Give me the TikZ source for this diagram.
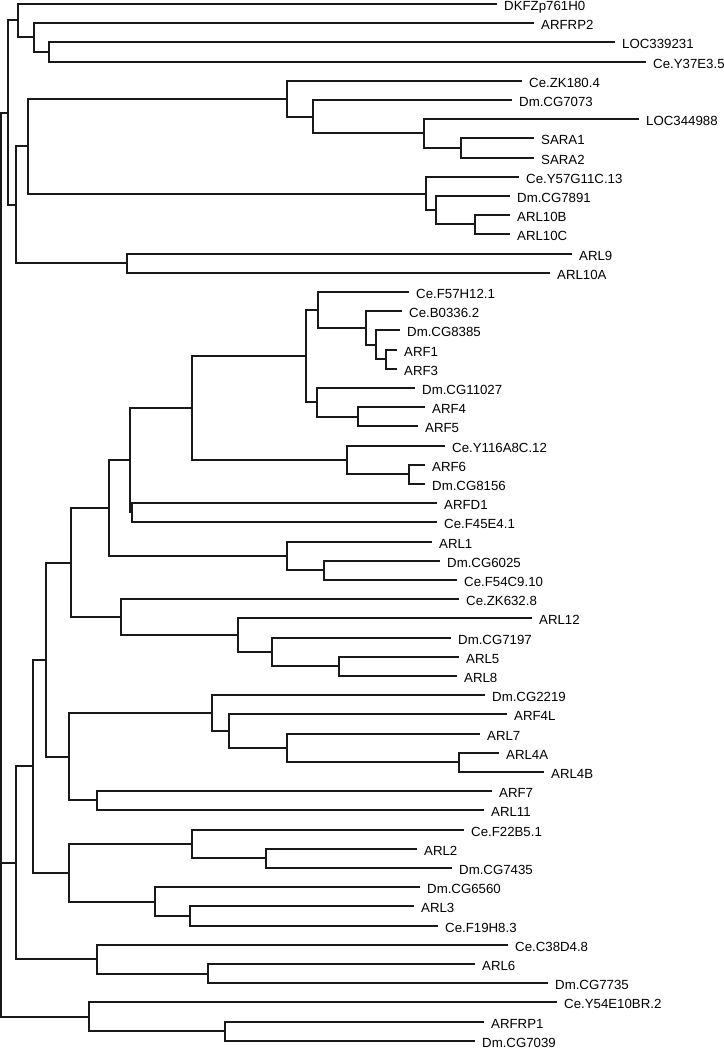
\documentclass[tikz,border=0pt]{standalone}
\usepackage{fontspec}
\setmainfont{Liberation Sans}
\usepackage{tikz}
\tikzset{
  % Tree branches
  branch/.style={draw=black!90, line width=1.8bp, line join=miter},
  % Tip labels
  taxon/.style={
    anchor=west, inner xsep=7bp, inner ysep=0pt,
    text height=12.6pt, text depth=0pt,
    font=\fontsize{13.3}{13.3}\selectfont,
  },
}

\begin{document}
\begin{tikzpicture}[x=1bp, y=-1bp]
  \useasboundingbox (0,0) rectangle (724,1048);

  % Tips, top group
  \node[taxon] (dkfz)      at (497,4)   {DKFZp761H0};
  \node[taxon] (arfrp2)    at (534,23)  {ARFRP2};
  \node[taxon] (loc339231) at (615,42)  {LOC339231};
  \node[taxon] (y37e3)     at (646,62)  {Ce.Y37E3.5};
  \node[taxon] (zk180)     at (522,81)  {Ce.ZK180.4};
  \node[taxon] (cg7073)    at (512,100) {Dm.CG7073};
  \node[taxon] (loc344988) at (639,119) {LOC344988};
  \node[taxon] (sara1)     at (534,138) {SARA1};
  \node[taxon] (sara2)     at (534,158) {SARA2};
  \node[taxon] (y57g11c)   at (519,177) {Ce.Y57G11C.13};
  \node[taxon] (cg7891)    at (510,196) {Dm.CG7891};
  \node[taxon] (arl10b)    at (510,215) {ARL10B};
  \node[taxon] (arl10c)    at (510,234) {ARL10C};
  \node[taxon] (arl9)      at (572,254) {ARL9};
  \node[taxon] (arl10a)    at (550,273) {ARL10A};

  % Tips, ARF / ARL group
  \node[taxon] (f57h12)    at (409,292) {Ce.F57H12.1};
  \node[taxon] (b0336)     at (402,311) {Ce.B0336.2};
  \node[taxon] (cg8385)    at (400,330) {Dm.CG8385};
  \node[taxon] (arf1)      at (397,350) {ARF1};
  \node[taxon] (arf3)      at (397,369) {ARF3};
  \node[taxon] (cg11027)   at (415,388) {Dm.CG11027};
  \node[taxon] (arf4)      at (425,407) {ARF4};
  \node[taxon] (arf5)      at (418,426) {ARF5};
  \node[taxon] (y116a8c)   at (445,446) {Ce.Y116A8C.12};
  \node[taxon] (arf6)      at (425,465) {ARF6};
  \node[taxon] (cg8156)    at (425,484) {Dm.CG8156};
  \node[taxon] (arfd1)     at (437,503) {ARFD1};
  \node[taxon] (f45e4)     at (437,522) {Ce.F45E4.1};
  \node[taxon] (arl1)      at (432,542) {ARL1};
  \node[taxon] (cg6025)    at (440,561) {Dm.CG6025};
  \node[taxon] (f54c9)     at (457,580) {Ce.F54C9.10};
  \node[taxon] (zk632)     at (459,599) {Ce.ZK632.8};
  \node[taxon] (arl12)     at (532,618) {ARL12};
  \node[taxon] (cg7197)    at (451,638) {Dm.CG7197};
  \node[taxon] (arl5)      at (459,657) {ARL5};
  \node[taxon] (arl8)      at (457,676) {ARL8};
  \node[taxon] (cg2219)    at (485,695) {Dm.CG2219};
  \node[taxon] (arf4l)     at (507,714) {ARF4L};
  \node[taxon] (arl7)      at (480,734) {ARL7};
  \node[taxon] (arl4a)     at (499,753) {ARL4A};
  \node[taxon] (arl4b)     at (544,772) {ARL4B};
  \node[taxon] (arf7)      at (492,791) {ARF7};
  \node[taxon] (arl11)     at (484,810) {ARL11};
  \node[taxon] (f22b5)     at (464,830) {Ce.F22B5.1};
  \node[taxon] (arl2)      at (417,849) {ARL2};
  \node[taxon] (cg7435)    at (452,868) {Dm.CG7435};
  \node[taxon] (cg6560)    at (420,887) {Dm.CG6560};
  \node[taxon] (arl3)      at (414,906) {ARL3};
  \node[taxon] (f19h8)     at (438,926) {Ce.F19H8.3};
  \node[taxon] (c38d4)     at (508,945) {Ce.C38D4.8};
  \node[taxon] (arl6)      at (475,964) {ARL6};
  \node[taxon] (cg7735)    at (548,983) {Dm.CG7735};

  % Tips, bottom group
  \node[taxon] (y54e10br)  at (557,1002) {Ce.Y54E10BR.2};
  \node[taxon] (arfrp1)    at (484,1022) {ARFRP1};
  \node[taxon] (cg7039)    at (475,1041) {Dm.CG7039};

  % Internal nodes
  \coordinate (root)   at (1.3,863);
  \coordinate (nA)     at (8,113);
  \coordinate (na)     at (18,20);
  \coordinate (nb)     at (34,37);
  \coordinate (nc)     at (49,52);
  \coordinate (nE)     at (16,205);
  \coordinate (nD)     at (28,146);
  \coordinate (nH)     at (287,99);
  \coordinate (nI)     at (313,117);
  \coordinate (nJ)     at (424,133);
  \coordinate (nSara)  at (461,148);
  \coordinate (nK)     at (426,194);
  \coordinate (nL)     at (436,210);
  \coordinate (nM)     at (475,224);
  \coordinate (nF)     at (127,263);

  \coordinate (nN)     at (16,863);
  \coordinate (nO)     at (33,766);
  \coordinate (nU)     at (46,660);
  \coordinate (nSeven) at (71,563);
  \coordinate (nArf)   at (109,508);
  \coordinate (nAlpha) at (130,460);
  \coordinate (nArfs)  at (192,408);
  \coordinate (nArfi)  at (306,356);
  \coordinate (nArfa)  at (318,310);
  \coordinate (nArfb)  at (366,328);
  \coordinate (nArfc)  at (376,345);
  \coordinate (nArfit) at (386,359);
  \coordinate (nArfii) at (317,402);
  \coordinate (nArfiv) at (358,417);
  \coordinate (nArfvi) at (347,460);
  \coordinate (nArfsx) at (409,474);
  \coordinate (nArfd)  at (132,512);
  \coordinate (nArli)  at (287,556);
  \coordinate (nArlib) at (324,570);
  \coordinate (nZk)    at (121,617);
  \coordinate (nArlxi) at (238,635);
  \coordinate (nArlv)  at (272,652);
  \coordinate (nArlvh) at (339,666);
  \coordinate (nV)     at (69,757);
  \coordinate (nX)     at (212,713);
  \coordinate (nY)     at (229,731);
  \coordinate (nZ)     at (287,748);
  \coordinate (nArliv) at (459,762);
  \coordinate (nW)     at (97,800);
  \coordinate (nP)     at (69,873);
  \coordinate (nQ)     at (192,844);
  \coordinate (nR)     at (266,858);
  \coordinate (nS)     at (155,902);
  \coordinate (nT)     at (190,916);
  \coordinate (nCe)    at (97,959);
  \coordinate (nArlvi) at (208,974);

  \coordinate (nBot)   at (89,1017);
  \coordinate (nArfrp) at (225,1031);

  % Branches
  \draw[branch] (root) |- (nA) (root) |- (nN) (root) |- (nBot);

  \draw[branch] (nA) |- (na) (nA) |- (nE);
  \draw[branch] (na) |- (dkfz.west) (na) |- (nb);
  \draw[branch] (nb) |- (arfrp2.west) (nb) |- (nc);
  \draw[branch] (nc) |- (loc339231.west) (nc) |- (y37e3.west);
  \draw[branch] (nE) |- (nD) (nE) |- (nF);
  \draw[branch] (nD) |- (nH) (nD) |- (nK);
  \draw[branch] (nH) |- (zk180.west) (nH) |- (nI);
  \draw[branch] (nI) |- (cg7073.west) (nI) |- (nJ);
  \draw[branch] (nJ) |- (loc344988.west) (nJ) |- (nSara);
  \draw[branch] (nSara) |- (sara1.west) (nSara) |- (sara2.west);
  \draw[branch] (nK) |- (y57g11c.west) (nK) |- (nL);
  \draw[branch] (nL) |- (cg7891.west) (nL) |- (nM);
  \draw[branch] (nM) |- (arl10b.west) (nM) |- (arl10c.west);
  \draw[branch] (nF) |- (arl9.west) (nF) |- (arl10a.west);

  \draw[branch] (nN) |- (nO) (nN) |- (nCe);
  \draw[branch] (nO) |- (nU) (nO) |- (nP);
  \draw[branch] (nU) |- (nSeven) (nU) |- (nV);
  \draw[branch] (nSeven) |- (nArf) (nSeven) |- (nZk);
  \draw[branch] (nArf) |- (nAlpha) (nArf) |- (nArli);
  \draw[branch] (nAlpha) |- (nArfs) (nAlpha) |- (nArfd);
  \draw[branch] (nArfs) |- (nArfi) (nArfs) |- (nArfvi);
  \draw[branch] (nArfi) |- (nArfa) (nArfi) |- (nArfii);
  \draw[branch] (nArfa) |- (f57h12.west) (nArfa) |- (nArfb);
  \draw[branch] (nArfb) |- (b0336.west) (nArfb) |- (nArfc);
  \draw[branch] (nArfc) |- (cg8385.west) (nArfc) |- (nArfit);
  \draw[branch] (nArfit) |- (arf1.west) (nArfit) |- (arf3.west);
  \draw[branch] (nArfii) |- (cg11027.west) (nArfii) |- (nArfiv);
  \draw[branch] (nArfiv) |- (arf4.west) (nArfiv) |- (arf5.west);
  \draw[branch] (nArfvi) |- (y116a8c.west) (nArfvi) |- (nArfsx);
  \draw[branch] (nArfsx) |- (arf6.west) (nArfsx) |- (cg8156.west);
  \draw[branch] (nArfd) |- (arfd1.west) (nArfd) |- (f45e4.west);
  \draw[branch] (nArli) |- (arl1.west) (nArli) |- (nArlib);
  \draw[branch] (nArlib) |- (cg6025.west) (nArlib) |- (f54c9.west);
  \draw[branch] (nZk) |- (zk632.west) (nZk) |- (nArlxi);
  \draw[branch] (nArlxi) |- (arl12.west) (nArlxi) |- (nArlv);
  \draw[branch] (nArlv) |- (cg7197.west) (nArlv) |- (nArlvh);
  \draw[branch] (nArlvh) |- (arl5.west) (nArlvh) |- (arl8.west);
  \draw[branch] (nV) |- (nX) (nV) |- (nW);
  \draw[branch] (nX) |- (cg2219.west) (nX) |- (nY);
  \draw[branch] (nY) |- (arf4l.west) (nY) |- (nZ);
  \draw[branch] (nZ) |- (arl7.west) (nZ) |- (nArliv);
  \draw[branch] (nArliv) |- (arl4a.west) (nArliv) |- (arl4b.west);
  \draw[branch] (nW) |- (arf7.west) (nW) |- (arl11.west);
  \draw[branch] (nP) |- (nQ) (nP) |- (nS);
  \draw[branch] (nQ) |- (f22b5.west) (nQ) |- (nR);
  \draw[branch] (nR) |- (arl2.west) (nR) |- (cg7435.west);
  \draw[branch] (nS) |- (cg6560.west) (nS) |- (nT);
  \draw[branch] (nT) |- (arl3.west) (nT) |- (f19h8.west);
  \draw[branch] (nCe) |- (c38d4.west) (nCe) |- (nArlvi);
  \draw[branch] (nArlvi) |- (arl6.west) (nArlvi) |- (cg7735.west);

  \draw[branch] (nBot) |- (y54e10br.west) (nBot) |- (nArfrp);
  \draw[branch] (nArfrp) |- (arfrp1.west) (nArfrp) |- (cg7039.west);
\end{tikzpicture}
\end{document}
